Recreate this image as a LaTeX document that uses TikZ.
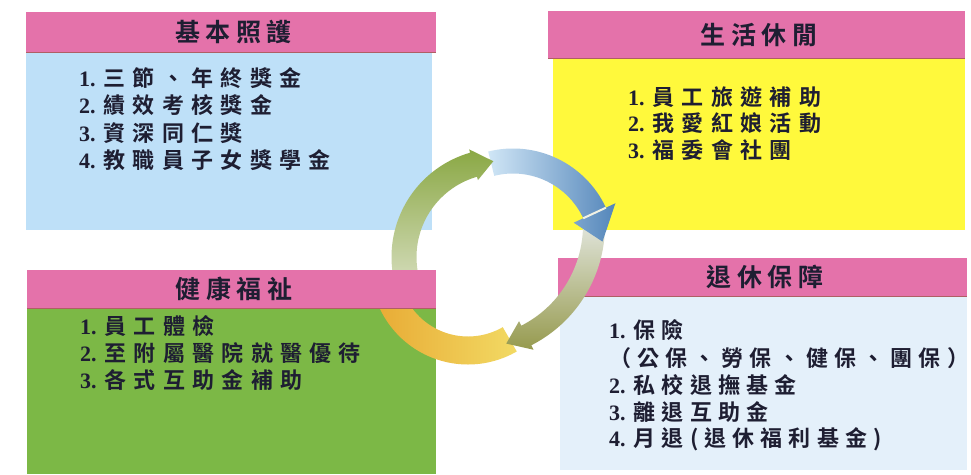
\documentclass[tikz,border=0pt]{standalone}
\usepackage{fontspec}
\setmainfont{Liberation Serif}
\newfontfamily\cjk{Noto Sans CJK TC}[BoldFont={Noto Sans CJK TC Bold},LetterSpace=33]
\usetikzlibrary{calc}
\definecolor{pinkhdr}{RGB}{228,114,170}
\definecolor{hdredge}{RGB}{175,95,100}
\definecolor{tlblue}{RGB}{190,224,248}
\definecolor{tryellow}{RGB}{255,249,60}
\definecolor{blgreen}{RGB}{124,184,70}
\definecolor{brlight}{RGB}{228,240,250}
\definecolor{textcol}{RGB}{30,30,50}
\definecolor{greenA}{RGB}{218,224,196}
\definecolor{greenB}{RGB}{138,168,68}
\definecolor{blueA}{RGB}{208,230,246}
\definecolor{blueB}{RGB}{84,134,186}
\definecolor{greyA}{RGB}{222,226,214}
\definecolor{greyB}{RGB}{150,154,78}
\definecolor{orangeA}{RGB}{232,170,52}
\definecolor{orangeB}{RGB}{242,218,100}
\definecolor{gapcol}{RGB}{242,242,228}
\newcommand\ringarrow[9]{%
  \pgfmathsetmacro\RAo{#3+#4}\pgfmathsetmacro\RAi{#3-#4}%
  \pgfmathsetmacro\RAho{#3+#8}\pgfmathsetmacro\RAhi{#3-#8}%
  \shade[#9] ([shift={(#5:\RAo)}]#1,#2) arc[start angle=#5,end angle=#6,radius=\RAo]
    -- ([shift={(#6:\RAho)}]#1,#2) -- ([shift={(#7:#3)}]#1,#2)
    -- ([shift={(#6:\RAhi)}]#1,#2) -- ([shift={(#6:\RAi)}]#1,#2)
    arc[start angle=#6,end angle=#5,radius=\RAi] -- cycle;}
\newcommand\ringband[7]{%
  \pgfmathsetmacro\RAo{#3+#4}\pgfmathsetmacro\RAi{#3-#4}%
  \shade[#7] ([shift={(#5:\RAo)}]#1,#2) arc[start angle=#5,end angle=#6,radius=\RAo]
    -- ([shift={(#6:\RAi)}]#1,#2)
    arc[start angle=#6,end angle=#5,radius=\RAi] -- cycle;}
\newcommand\numlab[1]{{\rmfamily\fontsize{22}{26}\selectfont\bfseries #1}\hspace{8pt}}
\tikzset{
  body/.style={inner sep=0pt, outer sep=0pt, draw=none},
  hdr/.style={fill=pinkhdr, inner sep=0pt, outer sep=0pt, text=textcol,
    font=\fontsize{25}{29}\selectfont\cjk\bfseries\addfontfeatures{LetterSpace=22}},
  item/.style={anchor=base west, inner sep=0pt, text=textcol,
    font=\fontsize{22}{26}\selectfont\cjk\bfseries},
  itembr/.style={item, font=\fontsize{22}{26}\selectfont\cjk\bfseries\addfontfeatures{LetterSpace=28}},
  edge/.style={draw=hdredge, line width=1pt}
}
\begin{document}
\begin{tikzpicture}[x=1pt,y=-1pt]
\useasboundingbox[fill=white] (0,0) rectangle (971,474);
% bodies
\node[body, fill=tlblue, minimum width=406pt, minimum height=178pt] (tlb) at (229,141) {};
\node[body, fill=tryellow, minimum width=412pt, minimum height=172pt] (trb) at (759,144) {};
\node[body, fill=blgreen, minimum width=409pt, minimum height=166pt] (blb) at (231.5,391) {};
\node[body, fill=brlight, minimum width=407pt, minimum height=174pt] (brb) at (763.5,383) {};
% headers under the ring
\node[hdr, minimum width=410pt, minimum height=40pt] (tlh) at (231,32) {\hspace{5pt}基本照護};
\draw[edge] (tlh.south west) -- (tlh.south east);
\node[hdr, minimum width=417pt, minimum height=47pt] (trh) at (756.5,34.5) {\hspace{5pt}生活休閒};
\draw[edge] (trh.south west) -- (trh.south east);
\node[hdr, minimum width=409pt, minimum height=38pt] (brh) at (762.5,277) {\hspace{5pt}退休保障};
\draw[edge] (brh.south west) -- (brh.south east);
% ring of arrows
\ringband{468}{267}{83.5}{14}{60}{168}{left color=orangeA, right color=orangeB}
\ringarrow{470}{225}{124}{11}{2}{63}{73}{16}{top color=greyA, bottom color=greyB}
\ringarrow{513}{251}{90}{12.5}{-104}{-25}{-6}{23}{left color=blueA, right color=blueB}
\draw[gapcol, line width=2pt] ([shift={(-25:77.5)}]513,251) -- ([shift={(-25:102.5)}]513,251);
\ringarrow{500}{257}{96}{12.5}{-200}{-106}{-94}{16}{bottom color=greenA, top color=greenB}
% header over the ring
\node[hdr, minimum width=409pt, minimum height=38pt] (blh) at (231.5,289) {\hspace{5pt}健康福祉};
\draw[edge] (blh.south west) -- (blh.south east);
% lists
\node[item] (tl1) at (79,86) {\numlab{1.}三節、年終獎金};
\node[item] (tl2) at (79,113.5) {\numlab{2.}績效考核獎金};
\node[item] (tl3) at (79,141) {\numlab{3.}資深同仁獎};
\node[item] (tl4) at (79,168) {\numlab{4.}教職員子女獎學金};
\node[item] (tr1) at (628,105) {\numlab{1.}員工旅遊補助};
\node[item] (tr2) at (628,131.5) {\numlab{2.}我愛紅娘活動};
\node[item] (tr3) at (628,158) {\numlab{3.}福委會社團};
\node[item] (bl1) at (80,334) {\numlab{1.}員工體檢};
\node[item] (bl2) at (80,361) {\numlab{2.}至附屬醫院就醫優待};
\node[item] (bl3) at (80,388) {\numlab{3.}各式互助金補助};
\node[itembr] (br1) at (609,338) {\numlab{1.}保險};
\node[itembr] (br2) at (609,366) {（公保、勞保、健保、團保）};
\node[itembr] (br3) at (609,393) {\numlab{2.}私校退撫基金};
\node[itembr] (br4) at (609,420) {\numlab{3.}離退互助金};
\node[itembr] (br5) at (609,446) {\numlab{4.}月退(退休福利基金)};
\end{tikzpicture}
\end{document}
